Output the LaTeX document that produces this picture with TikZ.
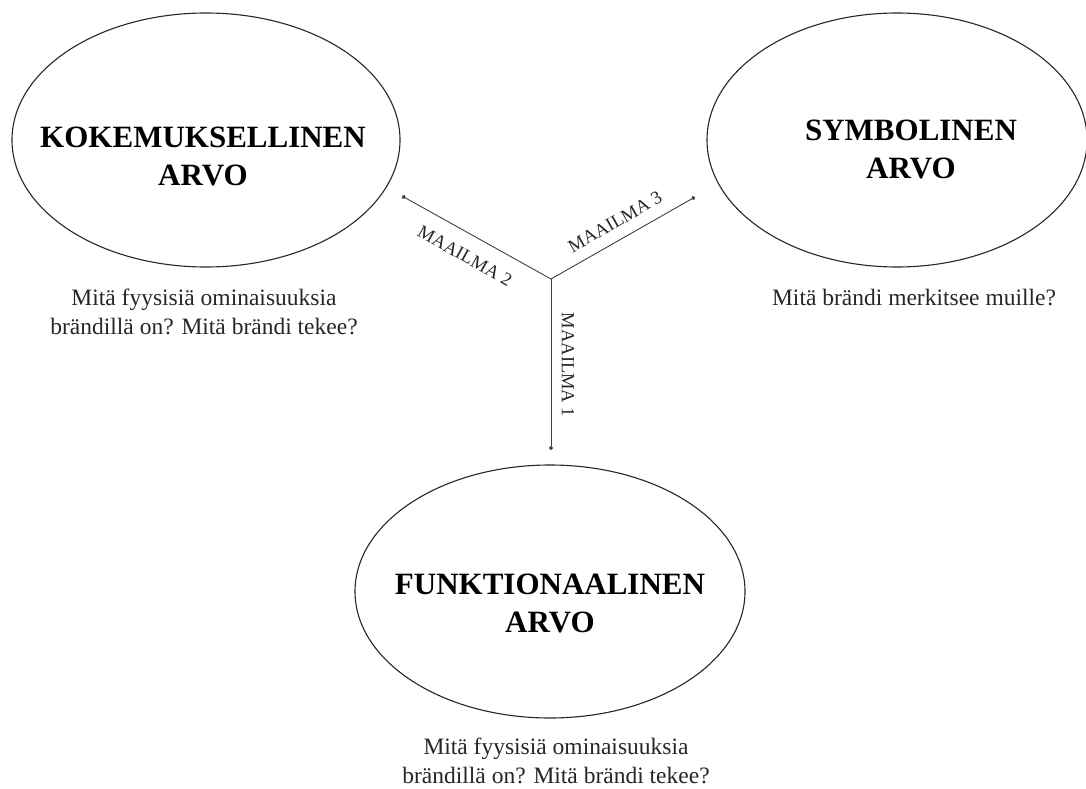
\documentclass[tikz,border=0pt]{standalone}
\usepackage{fontspec}
\setmainfont{Liberation Serif}
\usetikzlibrary{arrows.meta}
\tikzset{
  title/.style={font=\fontsize{31}{38}\selectfont\bfseries, align=center},
  caption/.style={font=\fontsize{23.5}{29}\selectfont, align=center, text=black!85},
  world/.style={font=\fontsize{18.5}{22}\selectfont, text=black!85, inner sep=0pt},
  valline/.style={draw=black!85, line width=1.1pt},
  link/.style={draw=black!75, line width=0.9pt, -{Circle[length=4pt]}},
}
\begin{document}
\begin{tikzpicture}[x=1pt,y=-1pt]
\useasboundingbox (0,0) rectangle (1086,789);
% ellipses
\draw[valline] (206,140) ellipse [x radius=194, y radius=127];
\draw[valline] (897,140) ellipse [x radius=190, y radius=127];
\draw[valline] (550,591.5) ellipse [x radius=195, y radius=126.5];
% titles
\node[title] (kok) at (203,156) {KOKEMUKSELLINEN\\ARVO};
\node[title] (sym) at (911,149) {SYMBOLINEN\\ARVO};
\node[title] (fun) at (550,603) {FUNKTIONAALINEN\\ARVO};
% captions
\node[caption] (ckok) at (204,312) {Mitä fyysisiä ominaisuuksia\\brändillä on? Mitä brändi tekee?};
\node[caption] (csym) at (914,298) {Mitä brändi merkitsee muille?};
\node[caption] (cfun) at (556,761) {Mitä fyysisiä ominaisuuksia\\brändillä on? Mitä brändi tekee?};
% connectors
\coordinate (j) at (551,279);
\coordinate (e2) at (402,196);
\coordinate (e3) at (695,197);
\coordinate (e1) at (551,450);
\draw[link] (j) -- (e2);
\draw[link] (j) -- (e3);
\draw[link] (j) -- (e1);
% labels
\node[world, rotate=-29.1] (w2) at (465,256) {MAAILMA 2};
\node[world, rotate=29.7] (w3) at (615,222) {MAAILMA 3};
\node[world, rotate=-90] (w1) at (568,365) {MAAILMA 1};
\end{tikzpicture}
\end{document}
